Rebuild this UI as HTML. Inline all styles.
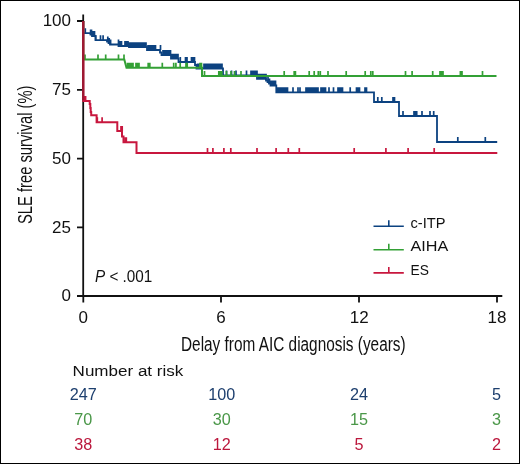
<!DOCTYPE html><html><head><meta charset="utf-8"><title>SLE free survival</title><style>html,body{margin:0;padding:0;background:#fff;width:520px;height:464px;overflow:hidden}svg{display:block;will-change:transform}</style></head><body><svg width="520" height="464" viewBox="0 0 520 464"><rect x="0" y="0" width="520" height="464" fill="#fff"/><rect x="0.5" y="0.5" width="519" height="463" fill="none" stroke="#000" stroke-width="1"/><g stroke="#111" stroke-width="1.8" fill="none"><path d="M83.2 14.5V296.2"/><path d="M82.3 296H502.3"/><path d="M77 21H83M77 89.8H83M77 158.6H83M77 227.4H83M77 296H83"/><path d="M83.3 296V302.6M221 296V302.6M359 296V302.6M497 296V302.6"/></g><g font-family="Liberation Sans, sans-serif" font-size="17" fill="#111" text-anchor="end"><text x="71" y="26.2">100</text><text x="71" y="95">75</text><text x="71" y="163.8">50</text><text x="71" y="232.6">25</text><text x="71" y="301.3">0</text></g><g font-family="Liberation Sans, sans-serif" font-size="17" fill="#111" text-anchor="middle"><text x="83.3" y="322.9">0</text><text x="221" y="322.9">6</text><text x="359.3" y="322.9">12</text><text x="497" y="322.9">18</text></g><text font-family="Liberation Sans, sans-serif" font-size="19.5" fill="#111" x="181" y="350.6" textLength="224.6" lengthAdjust="spacingAndGlyphs">Delay from AIC diagnosis (years)</text><text font-family="Liberation Sans, sans-serif" font-size="19.8" fill="#111" transform="translate(31.6 224) rotate(-90)" x="0" y="0" textLength="138.5" lengthAdjust="spacingAndGlyphs">SLE free survival (%)</text><g fill="none" stroke-width="1.8" stroke-linejoin="miter"><path d="M83.3 21V33.2H90.5V34.5H92V36H95.5V40.2H107V41.5H108.5V43H110V44.5H118.5V46H129V47.2H147V50H160V52.5H161.5V55H171V58.7H178.5V62H195V65H196.5V68.5H223V75.5H257V78.8H266V80.5H267.5V82H269V83.5H270.5V85.5H276.3V92.3H374V102H399V116H437V142H497.2" stroke="#0c4280"/><path d="M85.3 33.2V28.2M90.6 34.5V29.5M91.5 34.5V29.5M93.0 36.0V31.0M94.5 36.0V31.0M95.7 40.2V35.2M100.5 40.2V35.2M103.1 40.2V35.2M107.8 41.5V36.5M109.2 43.0V38.0M110.6 44.5V39.5M118.5 44.5V39.5M119.8 46.0V41.0M121.5 46.0V41.0M125.0 46.0V41.0M126.5 46.0V41.0M128.0 46.0V41.0M129.5 47.2V42.2M131.0 47.2V42.2M132.5 47.2V42.2M134.0 47.2V42.2M135.5 47.2V42.2M137.0 47.2V42.2M138.5 47.2V42.2M140.0 47.2V42.2M141.5 47.2V42.2M143.0 47.2V42.2M144.5 47.2V42.2M146.0 47.2V42.2M148.0 50.0V45.0M149.5 50.0V45.0M151.0 50.0V45.0M152.5 50.0V45.0M154.0 50.0V45.0M155.5 50.0V45.0M160.5 50.0V45.0M163.0 55.0V50.0M164.5 55.0V50.0M166.0 55.0V50.0M167.5 55.0V50.0M169.0 55.0V50.0M170.5 55.0V50.0M172.0 58.7V53.7M173.5 58.7V53.7M175.0 58.7V53.7M176.5 58.7V53.7M178.0 58.7V53.7M180.3 62.0V57.0M185.5 62.0V57.0M187.0 62.0V57.0M191.5 62.0V57.0M193.0 62.0V57.0M194.5 62.0V57.0M197.5 68.5V63.5M199.0 68.5V63.5M204.0 68.5V63.5M205.5 68.5V63.5M207.0 68.5V63.5M208.5 68.5V63.5M210.0 68.5V63.5M211.5 68.5V63.5M213.0 68.5V63.5M214.5 68.5V63.5M216.0 68.5V63.5M217.5 68.5V63.5M219.0 68.5V63.5M220.5 68.5V63.5M222.0 68.5V63.5M226.5 75.5V70.5M231.5 75.5V70.5M236.0 75.5V70.5M246.5 75.5V70.5M251.0 75.5V70.5M252.5 75.5V70.5M254.0 75.5V70.5M255.5 75.5V70.5M257.0 75.5V70.5M258.5 78.8V73.8M260.0 78.8V73.8M261.5 78.8V73.8M263.0 78.8V73.8M264.5 78.8V73.8M266.0 78.8V73.8M268.0 82.0V77.0M269.5 83.5V78.5M271.0 85.5V80.5M272.5 85.5V80.5M274.0 85.5V80.5M275.5 85.5V80.5M277.0 92.3V87.3M278.5 92.3V87.3M280.0 92.3V87.3M281.5 92.3V87.3M283.0 92.3V87.3M284.5 92.3V87.3M286.0 92.3V87.3M287.5 92.3V87.3M293.0 92.3V87.3M298.0 92.3V87.3M300.0 92.3V87.3M306.0 92.3V87.3M307.5 92.3V87.3M309.0 92.3V87.3M310.5 92.3V87.3M312.0 92.3V87.3M313.5 92.3V87.3M315.0 92.3V87.3M316.5 92.3V87.3M318.0 92.3V87.3M321.0 92.3V87.3M322.5 92.3V87.3M324.0 92.3V87.3M325.5 92.3V87.3M329.0 92.3V87.3M333.5 92.3V87.3M338.0 92.3V87.3M339.5 92.3V87.3M341.0 92.3V87.3M342.5 92.3V87.3M350.2 92.3V87.3M356.5 92.3V87.3M358.0 92.3V87.3M359.5 92.3V87.3M365.0 92.3V87.3M366.5 92.3V87.3M377.8 102.0V97.0M381.8 102.0V97.0M393.0 102.0V97.0M394.5 102.0V97.0M403.0 116.0V111.0M414.0 116.0V111.0M415.5 116.0V111.0M416.7 116.0V111.0M422.0 116.0V111.0M430.0 116.0V111.0M433.7 116.0V111.0M457.8 142.0V137.0M485.3 142.0V137.0" stroke="#0c4280" stroke-width="1.7" fill="none" stroke-linecap="butt"/><path d="M83.3 21V59.5H124.3L126.5 67.7H202V76H496.5" stroke="#33a035" stroke-width="2"/><path d="M85.0 59.5V54.5M98.0 59.5V54.5M105.7 59.5V54.5M118.5 59.5V54.5M124.0 59.5V54.5M127.5 67.7V62.7M129.0 67.7V62.7M130.5 67.7V62.7M132.0 67.7V62.7M133.0 67.7V62.7M136.0 67.7V62.7M137.5 67.7V62.7M139.0 67.7V62.7M148.2 67.7V62.7M149.8 67.7V62.7M162.3 67.7V62.7M173.7 67.7V62.7M175.9 67.7V62.7M180.2 67.7V62.7M186.0 67.7V62.7M187.2 67.7V62.7M200.0 67.7V62.7M201.5 67.7V62.7M204.5 76.0V71.0M218.8 76.0V71.0M220.3 76.0V71.0M221.8 76.0V71.0M226.5 76.0V71.0M231.0 76.0V71.0M234.5 76.0V71.0M241.0 76.0V71.0M284.2 76.0V71.0M294.2 76.0V71.0M295.4 76.0V71.0M309.2 76.0V71.0M314.2 76.0V71.0M318.3 76.0V71.0M320.3 76.0V71.0M328.0 76.0V71.0M346.2 76.0V71.0M365.2 76.0V71.0M370.8 76.0V71.0M372.8 76.0V71.0M405.5 76.0V71.0M412.1 76.0V71.0M432.7 76.0V71.0M440.0 76.0V71.0M441.5 76.0V71.0M443.0 76.0V71.0M460.4 76.0V71.0M462.0 76.0V71.0M482.5 76.0V71.0" stroke="#33a035" stroke-width="1.7" fill="none" stroke-linecap="butt"/><path d="M83.3 21V100.9H89.7V104H90.3V108H90.7V112H91.2V115.2H96.6V122.2H117.3V131H122V136.5H123.5V142.2H136.5V152.9H497.3" stroke="#c8173e" stroke-width="2"/><path d="M84.6 100.9V95.9M85.6 100.9V95.9M97.3 122.2V117.2M102.1 122.2V117.2M121.0 131.0V126.0M122.2 131.0V126.0M125.0 142.2V137.2M126.3 142.2V137.2M207.5 152.9V147.9M212.9 152.9V147.9M223.9 152.9V147.9M230.8 152.9V147.9M257.0 152.9V147.9M276.1 152.9V147.9M288.3 152.9V147.9M299.3 152.9V147.9M354.2 152.9V147.9M385.9 152.9V147.9M408.1 152.9V147.9M434.2 152.9V147.9" stroke="#c8173e" stroke-width="1.7" fill="none" stroke-linecap="butt"/><path d="M83.2 21V100" stroke="#9e1832" stroke-width="2.2" fill="none"/></g><text font-family="Liberation Sans, sans-serif" font-size="16" fill="#111" x="95" y="281.5" textLength="57.3" lengthAdjust="spacingAndGlyphs"><tspan font-style="italic">P</tspan> &lt; .001</text><path d="M373.5 226.3H403.8M388.8 226.3V220.3" stroke="#0c4280" stroke-width="1.6" fill="none"/><text font-family="Liberation Sans, sans-serif" font-size="14" fill="#111" x="410.5" y="227.6" textLength="35.0" lengthAdjust="spacingAndGlyphs">c-ITP</text><path d="M373.5 249.8H403.8M388.8 249.8V243.8" stroke="#33a035" stroke-width="1.6" fill="none"/><text font-family="Liberation Sans, sans-serif" font-size="14" fill="#111" x="410.5" y="251.2" textLength="37.8" lengthAdjust="spacingAndGlyphs">AIHA</text><path d="M373.5 272.9H403.8M388.8 272.9V266.9" stroke="#c8173e" stroke-width="1.6" fill="none"/><text font-family="Liberation Sans, sans-serif" font-size="14" fill="#111" x="410.5" y="274.5" textLength="18.4" lengthAdjust="spacingAndGlyphs">ES</text><text font-family="Liberation Sans, sans-serif" font-size="15.4" fill="#111" x="72.6" y="375.8" textLength="110.7" lengthAdjust="spacingAndGlyphs">Number at risk</text><g font-family="Liberation Sans, sans-serif" font-size="16.2" fill="#1d3f6e" text-anchor="middle"><text x="83.3" y="400.2">247</text><text x="221.8" y="400.2">100</text><text x="359.1" y="400.2">24</text><text x="496.6" y="400.2">5</text></g><g font-family="Liberation Sans, sans-serif" font-size="16.2" fill="#4a9748" text-anchor="middle"><text x="83.3" y="425.2">70</text><text x="221.8" y="425.2">30</text><text x="359.1" y="425.2">15</text><text x="496.6" y="425.2">3</text></g><g font-family="Liberation Sans, sans-serif" font-size="16.2" fill="#bb173c" text-anchor="middle"><text x="83.3" y="449.8">38</text><text x="221.8" y="449.8">12</text><text x="359.1" y="449.8">5</text><text x="496.6" y="449.8">2</text></g></svg></body></html>
